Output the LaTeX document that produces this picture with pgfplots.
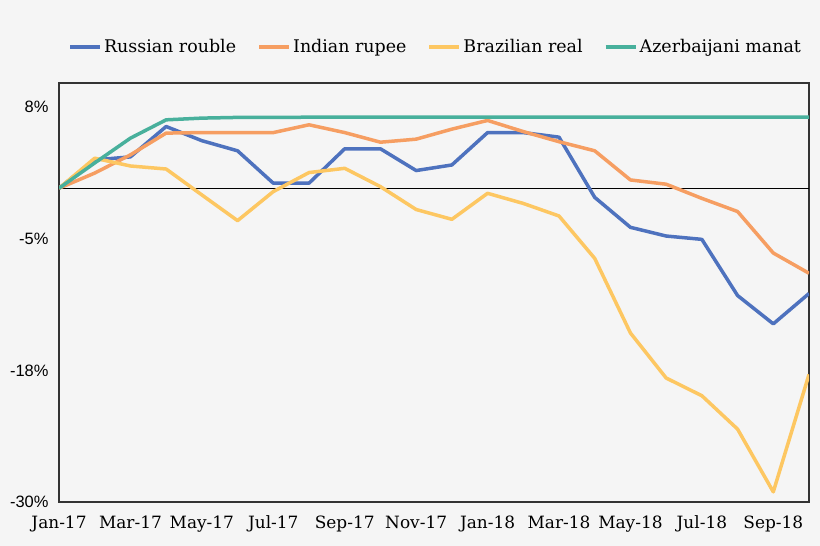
\documentclass[border=0pt]{standalone}
\usepackage{pgfplots}
\pgfplotsset{compat=1.18}
\usepackage{fontspec}
\setmainfont{DejaVu Serif}
\newfontfamily\sansf{Liberation Sans}
\definecolor{bgc}{RGB}{245,245,245}
\definecolor{cblue}{RGB}{78,114,190}
\definecolor{corange}{RGB}{246,158,98}
\definecolor{cyellow}{RGB}{253,199,98}
\definecolor{cgreen}{RGB}{72,176,156}
\begin{document}
\begin{tikzpicture}
\fill[bgc] (0,0) rectangle (820bp,546bp);
\begin{axis}[
  at={(59bp,44bp)}, anchor=south west,
  scale only axis, width=750bp, height=419bp,
  xmin=0, xmax=21, ymin=-31, ymax=10.4,
  axis line style={line width=1.5bp, draw=black!80},
  xtick={0,2,...,20},
  xticklabels={Jan-17,Mar-17,May-17,Jul-17,Sep-17,Nov-17,Jan-18,Mar-18,May-18,Jul-18,Sep-18},
  ytick={8,-5,-18,-31},
  yticklabels={8\%,-5\%,-18\%,-30\%},
  major tick length=0pt,
  xticklabel style={font=\fontsize{17}{17}\selectfont, yshift=-10bp},
  yticklabel style={font=\sansf\fontsize{16.5}{16.5}\selectfont, xshift=-7bp},
  legend columns=4,
  legend style={draw=none, fill=none, at={(0.502,1.086)}, anchor=center,
    font=\fontsize{17.5}{17.5}\selectfont,
    /tikz/every even column/.append style={column sep=19bp}},
  legend image code/.code={\draw[#1, line width=4bp] (0bp,0bp) -- (30bp,0bp);},
  every axis plot/.append style={line width=3.5bp, line join=round},
  clip=true,
]
\draw[black, line width=1.5bp] (axis cs:0,0) -- (axis cs:21,0);
\addplot[cblue] coordinates {
(0,0) (1,2.8) (2,3.1) (3,6.1) (4,4.7) (5,3.7) (6,0.5) (7,0.5) (8,3.9) (9,3.9) (10,1.75)
(11,2.3) (12,5.5) (13,5.5) (14,5.05) (15,-0.9) (16,-3.86) (17,-4.72) (18,-5.05) (19,-10.6) (20,-13.4) (21,-10.4)};
\addlegendentry{Russian rouble}
\addplot[corange] coordinates {
(0,0) (1,1.5) (2,3.3) (3,5.45) (4,5.5) (5,5.5) (6,5.5) (7,6.27) (8,5.5) (9,4.55) (10,4.85)
(11,5.84) (12,6.7) (13,5.6) (14,4.6) (15,3.7) (16,0.82) (17,0.4) (18,-1.0) (19,-2.3) (20,-6.4) (21,-8.4)};
\addlegendentry{Indian rupee}
\addplot[cyellow] coordinates {
(0,0) (1,2.97) (2,2.2) (3,1.9) (4,-0.66) (5,-3.2) (6,-0.33) (7,1.55) (8,1.97) (9,0.16) (10,-2.1)
(11,-3.07) (12,-0.5) (13,-1.5) (14,-2.74) (15,-6.93) (16,-14.3) (17,-18.75) (18,-20.5) (19,-23.8) (20,-30.0) (21,-18.4)};
\addlegendentry{Brazilian real}
\addplot[cgreen] coordinates {
(0,0) (1,2.5) (2,4.95) (3,6.76) (4,6.93) (5,7.0) (6,7.0) (7,7.02) (8,7.03) (9,7.03) (10,7.03)
(11,7.03) (12,7.03) (13,7.03) (14,7.03) (15,7.03) (16,7.03) (17,7.03) (18,7.03) (19,7.03) (20,7.03) (21,7.03)};
\addlegendentry{Azerbaijani manat}
\end{axis}
\end{tikzpicture}
\end{document}
